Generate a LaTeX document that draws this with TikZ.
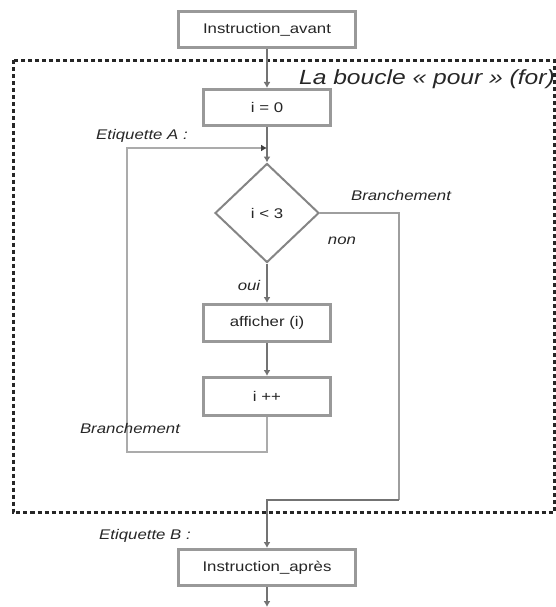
\documentclass[tikz,border=0pt]{standalone}
\usepackage{fontspec}
\setmainfont{Liberation Sans}
\usetikzlibrary{shapes.geometric,arrows.meta}
\newcommand{\hs}[1]{\scalebox{1.2}[1]{#1}}
\begin{document}
\begin{tikzpicture}[x=1pt,y=-1pt,
  txt/.style={font=\fontsize{14}{16}\selectfont, text=black!85, inner sep=0pt},
  lbl/.style={txt, font=\fontsize{14}{16}\selectfont\itshape},
  boxnode/.style={draw=black!40, line width=3pt, fill=white, rectangle, inner sep=0pt, txt},
  decision/.style={draw=black!48, line width=2pt, fill=white, diamond, aspect=1, inner sep=0pt,
    minimum width=104pt, minimum height=99pt, txt},
  flow/.style={draw=black!55, line width=2pt, -{Latex[length=6pt,width=7pt]}, shorten >=0pt},
  loopline/.style={draw=black!33, line width=2.5pt, -{Latex[length=6pt,width=7pt,color=black!75]}},
  exitline/.style={draw=black!38, line width=2.5pt},
  frame/.style={draw=black!85, line width=3pt, dash pattern=on 4pt off 3pt}
]
\useasboundingbox (0,0) rectangle (556,607);

% frame of the loop
\draw[frame] (13,60.5) rectangle (554.5,512);

% nodes
\node[boxnode, minimum width=177pt, minimum height=36pt] (avant) at (267,29.5) {\hs{Instruction\_avant}};
\node[boxnode, minimum width=127pt, minimum height=36pt] (init) at (267,107.5) {\hs{i = 0}};
\node[decision] (test) at (267,213) {\hs{i < 3}};
\node[boxnode, minimum width=127pt, minimum height=37pt] (aff) at (267,323) {\hs{afficher (i)}};
\node[boxnode, minimum width=127pt, minimum height=38pt] (inc) at (267,396.5) {\hs{i ++}};
\node[boxnode, minimum width=177pt, minimum height=36pt] (apres) at (267,567.5) {\hs{Instruction\_après}};

\coordinate (ja) at (267,148);
\coordinate (lb) at (127,452);
\coordinate (rb) at (399,500);
\coordinate (fin) at (267,607);

% labels
\node[lbl, font=\fontsize{20.5}{23}\selectfont\itshape, anchor=east] (title) at (555,79) {\hs{La boucle « pour » (for)}};
\node[lbl] (etA) at (142,136) {\hs{Etiquette A :}};
\node[lbl] (br1) at (401,195) {\hs{Branchement}};
\node[lbl] (non) at (342,241) {\hs{non}};
\node[lbl] (oui) at (249,285) {\hs{oui}};
\node[lbl] (etB) at (145,536) {\hs{Etiquette B :}};

% connectors
\draw[flow] (avant.south) -- (init.north);
\draw[flow] (init.south) -- (test.north);
\draw[flow] (test.south) -- (aff.north);
\draw[flow] (aff.south) -- (inc.north);
\draw[loopline] (inc.south) |- (lb) |- (ja);
\draw[exitline] (test.east) -| (rb);
\draw[flow] (rb) -| (apres.north);
\draw[flow] (apres.south) -- (fin);

\node[lbl] (br2) at (130,428) {\hs{Branchement}};
\end{tikzpicture}
\end{document}
